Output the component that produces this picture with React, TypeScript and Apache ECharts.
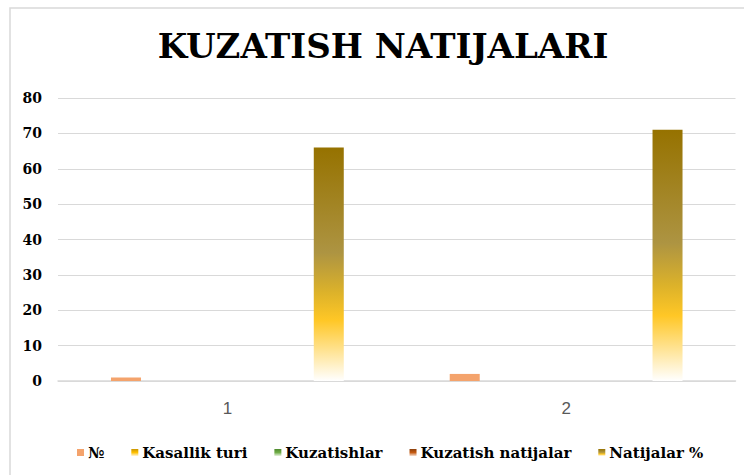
import React, { useEffect, useRef } from "react";
import * as echarts from "echarts";

const categories = ["1", "2"];
const seriesNames = ["№", "Kasallik turi", "Kuzatishlar", "Kuzatish natijalar", "Natijalar %"];
const numValues = [1, 2];
const kasallikValues = [0, 0];
const kuzatishlarValues = [0, 0];
const kuzatishNatValues = [0, 0];
const natijalarValues = [66, 71];
const yTicks = { min: 0, max: 80, interval: 10 };
const titleText = "KUZATISH NATIJALARI";

const grad = (stops: [number, string][]) =>
  new echarts.graphic.LinearGradient(0, 0, 0, 1, stops.map(([offset, color]) => ({ offset, color })));

export default function App() {
  const ref = useRef<HTMLDivElement>(null);
  useEffect(() => {
    if (!ref.current) return;
    const chart = echarts.init(ref.current, null, { renderer: "svg" });
    const serif = "DejaVu Serif";
    const colors = [
      "#F4A36C",
      grad([[0, "#C99500"], [0.5, "#FFC000"], [1, "#FFF6DA"]]),
      grad([[0, "#4E8A2E"], [0.5, "#70AD47"], [1, "#E8F3E0"]]),
      grad([[0, "#8A3F0C"], [0.5, "#C55A11"], [1, "#F6E0D2"]]),
      grad([
        [0, "#967200"],
        [0.45, "#AD9442"],
        [0.62, "#DCB22A"],
        [0.74, "#FFC726"],
        [1, "#FFFFFF"],
      ]),
    ];
    const data = [numValues, kasallikValues, kuzatishlarValues, kuzatishNatValues, natijalarValues];
    chart.setOption({
      animation: false,
      backgroundColor: "#ffffff",
      graphic: [
        {
          type: "rect",
          shape: { x: 10, y: 8, width: 800, height: 520 },
          style: { fill: "none", stroke: "#D9D9D9", lineWidth: 1.5 },
          silent: true,
        },
      ],
      title: {
        text: titleText,
        left: 378,
        textAlign: "center",
        top: 24,
        textStyle: { fontFamily: serif, fontWeight: "bold", fontSize: 34, color: "#000000" },
      },
      legend: {
        data: seriesNames,
        left: 72,
        top: 440,
        itemWidth: 7,
        itemHeight: 7,
        itemGap: 27,
        icon: "rect",
        textStyle: { fontFamily: serif, fontWeight: "bold", fontSize: 15, color: "#000000", padding: [0, 0, 0, -1] },
      },
      grid: { left: 58, right: 8.5, top: 98, bottom: 94, containLabel: false },
      xAxis: {
        type: "category",
        data: categories,
        axisLine: { lineStyle: { color: "#D9D9D9", width: 1.5 } },
        axisTick: { show: false },
        axisLabel: { color: "#595959", fontSize: 17, fontFamily: "Liberation Sans", margin: 19 },
      },
      yAxis: {
        type: "value",
        min: yTicks.min,
        max: yTicks.max,
        interval: yTicks.interval,
        axisLine: { show: false },
        axisTick: { show: false },
        axisLabel: { color: "#000000", fontSize: 14, fontWeight: "bold", fontFamily: serif, margin: 16 },
        splitLine: { lineStyle: { color: "#D9D9D9", width: 1 } },
      },
      series: seriesNames.map((name, i) => ({
        name,
        type: "bar",
        data: data[i],
        barWidth: 30,
        barGap: "69%",
        itemStyle: { color: colors[i] },
      })),
    });
    return () => chart.dispose();
  }, []);
  return (
    <div
      ref={ref}
      style={{ position: "absolute", left: 0, top: 0, width: 744, height: 475 }}
    />
  );
}
